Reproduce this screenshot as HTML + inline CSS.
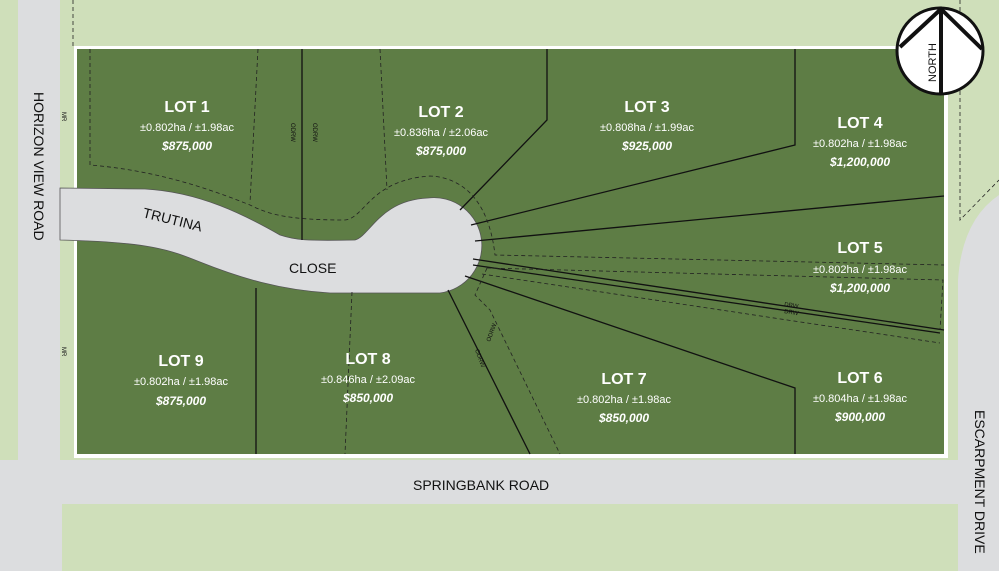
<!DOCTYPE html>
<html><head><style>
html,body{margin:0;padding:0;background:#cfdfba;}
svg{display:block;}
text{font-family:"Liberation Sans",sans-serif;}
.lot{fill:#fff;font-weight:bold;font-size:16px;text-anchor:middle;}
.area{fill:#fff;font-size:11px;text-anchor:middle;}
.price{fill:#fff;font-weight:bold;font-style:italic;font-size:12px;text-anchor:middle;}
.road{fill:#111;font-size:14px;}
.sm{fill:#111;font-size:6px;}
</style></head><body>
<svg width="999" height="571" viewBox="0 0 999 571" xmlns="http://www.w3.org/2000/svg">
<rect width="999" height="571" fill="#cfdfba"/>
<rect x="18" y="0" width="42" height="571" fill="#dcdddf"/>
<rect x="0" y="460" width="999" height="44" fill="#dcdddf"/>
<rect x="0" y="504" width="62" height="67" fill="#dcdddf"/>
<path d="M999 195 Q962 220 958 280 L958 571 L999 571 Z" fill="#dcdddf"/>
<rect x="958" y="455" width="41" height="116" fill="#dcdddf"/>
<rect x="74" y="46" width="874" height="412" fill="#fff"/>
<rect x="77" y="49" width="867" height="405" fill="#5e7d45"/>
<path d="M60 188 L145 189 C200 192 245 215 280 235 C295 240 305 241 355 240 C370 236 380 200 428 198 A47 47 0 0 1 440 293 L330 293 C280 290 240 278 200 262 C170 250 150 242 60 240 Z" fill="#dcdddf" stroke="#555" stroke-width="0.8"/>
<g stroke="#111" stroke-width="1.3" fill="none">
<line x1="302" y1="49" x2="302" y2="240"/>
<polyline points="547,49 547,120 460,210"/>
<polyline points="795,49 795,145 471,225"/>
<line x1="944" y1="196" x2="475" y2="241"/>
<line x1="473" y1="259" x2="944" y2="330"/>
<line x1="473" y1="265" x2="940" y2="333"/>
<polyline points="465,276 795,388 795,454"/>
<line x1="448" y1="290" x2="530" y2="454"/>
<line x1="256" y1="288" x2="256" y2="454"/>
</g>
<g stroke="#222" stroke-width="0.8" fill="none" stroke-dasharray="4,3">
<path d="M90 49 L90 165 C150 170 200 185 250 205 C270 215 290 220 345 220 C365 218 370 180 430 176 C470 178 490 210 495 255 L944 265"/>
<line x1="258" y1="49" x2="250" y2="203"/>
<line x1="380" y1="49" x2="387" y2="190"/>
<path d="M487 268 L943 280 L940 330"/>
<path d="M487 268 L475 295 L490 310 L560 454"/>
<line x1="352" y1="292" x2="345" y2="454"/>
<line x1="73" y1="0" x2="73" y2="46"/>
<path d="M960 0 L960 220 L999 180"/>
<line x1="482" y1="274" x2="940" y2="343"/>
</g>
<circle cx="940" cy="51" r="43" fill="#fff" stroke="#111" stroke-width="3"/>
<line x1="941" y1="8" x2="941" y2="94" stroke="#111" stroke-width="4"/>
<polyline points="900,47 941,9 982,49" stroke="#111" stroke-width="4" fill="none"/>
<text x="0" y="0" transform="translate(936,82) rotate(-90)" font-size="11" fill="#111">NORTH</text>
<text class="lot" x="187" y="112">LOT 1</text><text class="area" x="187" y="131">±0.802ha / ±1.98ac</text><text class="price" x="187" y="150">$875,000</text>
<text class="lot" x="441" y="117">LOT 2</text><text class="area" x="441" y="136">±0.836ha / ±2.06ac</text><text class="price" x="441" y="155">$875,000</text>
<text class="lot" x="647" y="112">LOT 3</text><text class="area" x="647" y="131">±0.808ha / ±1.99ac</text><text class="price" x="647" y="150">$925,000</text>
<text class="lot" x="860" y="128">LOT 4</text><text class="area" x="860" y="147">±0.802ha / ±1.98ac</text><text class="price" x="860" y="166">$1,200,000</text>
<text class="lot" x="860" y="253">LOT 5</text><text class="area" x="860" y="273">±0.802ha / ±1.98ac</text><text class="price" x="860" y="292">$1,200,000</text>
<text class="lot" x="860" y="383">LOT 6</text><text class="area" x="860" y="402">±0.804ha / ±1.98ac</text><text class="price" x="860" y="421">$900,000</text>
<text class="lot" x="624" y="384">LOT 7</text><text class="area" x="624" y="403">±0.802ha / ±1.98ac</text><text class="price" x="624" y="422">$850,000</text>
<text class="lot" x="368" y="364">LOT 8</text><text class="area" x="368" y="383">±0.846ha / ±2.09ac</text><text class="price" x="368" y="402">$850,000</text>
<text class="lot" x="181" y="366">LOT 9</text><text class="area" x="181" y="385">±0.802ha / ±1.98ac</text><text class="price" x="181" y="405">$875,000</text>
<text class="road" transform="translate(142,217) rotate(14)">TRUTINA</text>
<text class="road" x="289" y="273">CLOSE</text>
<text class="road" x="413" y="490">SPRINGBANK ROAD</text>
<text class="road" transform="translate(34,92) rotate(90)">HORIZON VIEW ROAD</text>
<text class="road" transform="translate(975,410) rotate(90)">ESCARPMENT DRIVE</text>
<text class="sm" transform="translate(62,112) rotate(90)">MR</text>
<text class="sm" transform="translate(62,347) rotate(90)">MR</text>
<text class="sm" transform="translate(291,123) rotate(90)">ODRW</text>
<text class="sm" transform="translate(313,123) rotate(90)">ODRW</text>
<text class="sm" transform="translate(490,342) rotate(-70)">ODRW</text>
<text class="sm" transform="translate(475,350) rotate(70)">ODRW</text>
<text class="sm" transform="translate(784,306) rotate(9)">DRW</text>
<text class="sm" transform="translate(784,313) rotate(9)">DRW</text>
</svg>
</body></html>
